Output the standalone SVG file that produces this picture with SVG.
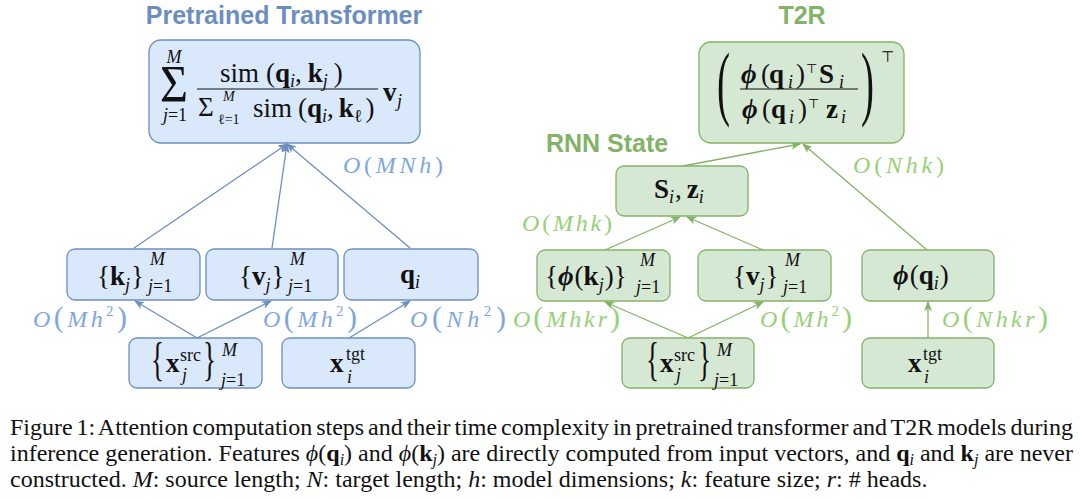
<svg xmlns="http://www.w3.org/2000/svg" width="1080" height="499" viewBox="0 0 1080 499">
<style>
.bb{fill:#dae8fc;stroke:#6c8ebf;stroke-width:1.3}
.gb{fill:#d5e8d4;stroke:#82b366;stroke-width:1.3}
.m{font-family:"Liberation Serif","DejaVu Serif",serif;font-size:27px;fill:#111}
.b{font-weight:bold}
.i{font-style:italic}
.s{font-size:18px}
.ss{font-size:14px}
.t{font-family:"DejaVu Sans",sans-serif;font-size:13px;font-style:normal;font-weight:normal}
.ttl{font-family:"Liberation Sans",Arial,sans-serif;font-size:25px;font-weight:bold;text-anchor:middle}
.lb{font-family:"Liberation Serif",serif;font-size:24px;font-style:italic}
.up{font-style:normal}
.lbb{fill:#7ea6e0}
.lbg{fill:#97d077}
.cap{font-family:"Liberation Serif","Times New Roman",serif;font-size:24px;fill:#111}
.sc{font-size:16px;font-style:italic}
.ce{stroke:#6c8ebf;stroke-width:1.3;fill:none}
.cg{stroke:#82b366;stroke-width:1.3;fill:none}
</style>
<defs>
<marker id="ab" viewBox="0 0 10 8" refX="9" refY="4" markerWidth="10" markerHeight="8" markerUnits="userSpaceOnUse" orient="auto"><path d="M0,0 L10,4 L0,8 L2.5,4 z" fill="#6c8ebf"/></marker>
<marker id="ag" viewBox="0 0 10 8" refX="9" refY="4" markerWidth="10" markerHeight="8" markerUnits="userSpaceOnUse" orient="auto"><path d="M0,0 L10,4 L0,8 L2.5,4 z" fill="#82b366"/></marker>
</defs>
<rect width="1080" height="499" fill="#ffffff"/>

<!-- titles -->
<text class="ttl" x="284" y="24" fill="#6c8ebf">Pretrained Transformer</text>
<text class="ttl" x="802" y="24" fill="#82b366">T2R</text>
<text class="ttl" x="607" y="152" fill="#82b366">RNN State</text>

<!-- connectors -->
<g id="connectors">
<g class="ce" marker-end="url(#ab)">
<path d="M134,248 L287,144"/>
<path d="M272,248 L287,144"/>
<path d="M410,248 L287,144"/>
<path d="M197,338 L135,301"/>
<path d="M197,338 L271,301"/>
<path d="M349,338 L410,301"/>
</g>
<g class="cg" marker-end="url(#ag)">
<path d="M683,166 L800,144"/>
<path d="M927,250 L803,144"/>
<path d="M605,250 L680,217"/>
<path d="M763,250 L687,217"/>
<path d="M688,338 L605,302"/>
<path d="M688,338 L763,302"/>
<path d="M928,338 L928,302"/>
</g>
</g>

<!-- complexity labels -->
<g id="labels" class="lb">
<text class="lbb" x="343" y="173" textLength="100" lengthAdjust="spacing">O<tspan class="up">(</tspan>MNh<tspan class="up">)</tspan></text>
<text class="lbb" x="33" y="327" textLength="94" lengthAdjust="spacing">O<tspan class="up" style="font-size:30px">(</tspan>Mh<tspan class="up" style="font-size:15px" dy="-11">2</tspan><tspan class="up" style="font-size:30px" dy="11">)</tspan></text>
<text class="lbb" x="263" y="327" textLength="94" lengthAdjust="spacing">O<tspan class="up" style="font-size:30px">(</tspan>Mh<tspan class="up" style="font-size:15px" dy="-11">2</tspan><tspan class="up" style="font-size:30px" dy="11">)</tspan></text>
<text class="lbb" x="410" y="327" textLength="96" lengthAdjust="spacing">O<tspan class="up" style="font-size:30px">(</tspan>Nh<tspan class="up" style="font-size:15px" dy="-11">2</tspan><tspan class="up" style="font-size:30px" dy="11">)</tspan></text>
<text class="lbg" x="853" y="173" textLength="91" lengthAdjust="spacing">O<tspan class="up">(</tspan>Nhk<tspan class="up">)</tspan></text>
<text class="lbg" x="522" y="231" textLength="90" lengthAdjust="spacing">O<tspan class="up">(</tspan>Mhk<tspan class="up">)</tspan></text>
<text class="lbg" x="513" y="327" textLength="107" lengthAdjust="spacing">O<tspan class="up" style="font-size:30px">(</tspan>Mhkr<tspan class="up" style="font-size:30px">)</tspan></text>
<text class="lbg" x="760" y="327" textLength="92" lengthAdjust="spacing">O<tspan class="up" style="font-size:30px">(</tspan>Mh<tspan class="up" style="font-size:15px" dy="-11">2</tspan><tspan class="up" style="font-size:30px" dy="11">)</tspan></text>
<text class="lbg" x="942" y="327" textLength="106" lengthAdjust="spacing">O<tspan class="up" style="font-size:30px">(</tspan>Nhkr<tspan class="up" style="font-size:30px">)</tspan></text>
</g>

<!-- LEFT: pretrained transformer -->
<g id="pt-attention">
<rect class="bb" x="149" y="40" width="271" height="103" rx="12"/>
<text class="m" x="160" y="102" style="font-size:52px" textLength="28" lengthAdjust="spacingAndGlyphs">Σ</text>
<text class="m i s" x="174" y="63" text-anchor="middle">M</text>
<text class="m s" x="175" y="121" text-anchor="middle"><tspan class="i">j</tspan>=1</text>
<text class="m" x="220" y="82">sim<tspan dx="7">(</tspan><tspan class="b">q</tspan><tspan class="s i" y="87">i</tspan><tspan y="82">,</tspan><tspan class="b" dx="6">k</tspan><tspan class="s i" y="87">j</tspan><tspan y="82" dx="6">)</tspan></text>
<line x1="197" y1="89" x2="378" y2="89" stroke="#111" stroke-width="1.2"/>
<text class="m" x="198" y="116">Σ</text>
<text class="m i ss" x="223" y="101">M</text>
<text class="m ss" x="218" y="124">ℓ=1</text>
<text class="m" x="253" y="117">sim<tspan dx="6">(</tspan><tspan class="b">q</tspan><tspan class="s i" y="122">i</tspan><tspan y="117">,</tspan><tspan class="b" dx="5">k</tspan><tspan class="s" y="122">ℓ</tspan><tspan y="117" dx="3">)</tspan></text>
<text class="m b" x="383" y="101">v</text>
<text class="m s i" x="397" y="107">j</text>
</g>

<g id="pt-keys">
<rect class="bb" x="67" y="249" width="133" height="51" rx="8"/>
<text class="m" x="97" y="285">{<tspan class="b">k</tspan><tspan class="s i" y="291">j</tspan><tspan y="285" dx="1">}</tspan></text>
<text class="m s i" x="150" y="265">M</text>
<text class="m s" x="148" y="292"><tspan class="i">j</tspan>=1</text>
</g>

<g id="pt-values">
<rect class="bb" x="206" y="249" width="132" height="51" rx="8"/>
<text class="m" x="239" y="285">{<tspan class="b">v</tspan><tspan class="s i" y="291">j</tspan><tspan y="285" dx="1">}</tspan></text>
<text class="m s i" x="290" y="265">M</text>
<text class="m s" x="288" y="292"><tspan class="i">j</tspan>=1</text>
</g>

<g id="pt-query">
<rect class="bb" x="344" y="249" width="134" height="51" rx="8"/>
<text class="m" x="400" y="283"><tspan class="b">q</tspan><tspan class="s i" y="288">i</tspan></text>
</g>

<g id="pt-src">
<rect class="bb" x="129" y="338" width="133" height="50" rx="8"/>
<text class="m" x="151" y="375" style="font-size:46px" textLength="13" lengthAdjust="spacingAndGlyphs">{</text>
<text class="m b" x="166" y="372">x</text>
<text class="m s" x="180" y="361">src</text>
<text class="m s i" x="182" y="381">j</text>
<text class="m" x="203" y="375" style="font-size:46px" textLength="13" lengthAdjust="spacingAndGlyphs">}</text>
<text class="m s i" x="222" y="356">M</text>
<text class="m s" x="221" y="386"><tspan class="i">j</tspan>=1</text>
</g>

<g id="pt-tgt">
<rect class="bb" x="282" y="338" width="133" height="50" rx="8"/>
<text class="m b" x="330" y="372">x</text>
<text class="m s" x="346" y="360">tgt</text>
<text class="m s i" x="347" y="383">i</text>
</g>

<!-- RIGHT: T2R -->
<g id="t2r-attention">
<rect class="gb" x="699" y="42" width="205" height="101" rx="12"/>
<text class="m" x="717" y="110" style="font-size:82px" textLength="13" lengthAdjust="spacingAndGlyphs">(</text>
<text class="m" x="861" y="110" style="font-size:82px" textLength="13" lengthAdjust="spacingAndGlyphs">)</text>
<text class="t" x="881" y="62" style="font-size:15px">⊤</text>
<text class="m b i" x="741" y="83">ϕ</text>
<text class="m" x="761" y="83">(</text>
<text class="m b" x="769" y="83">q</text>
<text class="m s i" x="788" y="88">i</text>
<text class="m" x="796" y="83">)</text>
<text class="t" x="806" y="73">⊤</text>
<text class="m b" x="819" y="83">S</text>
<text class="m s i" x="839" y="88">i</text>
<line x1="740" y1="89" x2="858" y2="89" stroke="#111" stroke-width="1.2"/>
<text class="m b i" x="742" y="118">ϕ</text>
<text class="m" x="762" y="118">(</text>
<text class="m b" x="771" y="118">q</text>
<text class="m s i" x="789" y="123">i</text>
<text class="m" x="798" y="118">)</text>
<text class="t" x="808" y="108">⊤</text>
<text class="m b" x="826" y="118">z</text>
<text class="m s i" x="841" y="123">i</text>
</g>

<g id="t2r-state">
<rect class="gb" x="616" y="166" width="132" height="50" rx="8"/>
<text class="m" x="654" y="198"><tspan class="b">S</tspan><tspan class="s i" y="203">i</tspan><tspan y="198" dx="1">,</tspan><tspan class="b" dx="5">z</tspan><tspan class="s i" y="203">i</tspan></text>
</g>

<g id="t2r-keys">
<rect class="gb" x="537" y="250" width="133" height="51" rx="8"/>
<text class="m" x="545" y="285">{<tspan class="b i">ϕ</tspan><tspan dx="1">(</tspan><tspan class="b">k</tspan><tspan class="s i" y="291">j</tspan><tspan y="285" dx="1">)</tspan>}</text>
<text class="m s i" x="640" y="266">M</text>
<text class="m s" x="636" y="293"><tspan class="i">j</tspan>=1</text>
</g>

<g id="t2r-values">
<rect class="gb" x="698" y="250" width="133" height="51" rx="8"/>
<text class="m" x="733" y="285">{<tspan class="b">v</tspan><tspan class="s i" y="291">j</tspan><tspan y="285" dx="1">}</tspan></text>
<text class="m s i" x="785" y="266">M</text>
<text class="m s" x="783" y="293"><tspan class="i">j</tspan>=1</text>
</g>

<g id="t2r-query">
<rect class="gb" x="862" y="250" width="132" height="51" rx="8"/>
<text class="m" x="893" y="284"><tspan class="b i">ϕ</tspan><tspan dx="1">(</tspan><tspan class="b">q</tspan><tspan class="s i" y="289">i</tspan><tspan y="284" dx="1">)</tspan></text>
</g>

<g id="t2r-src">
<rect class="gb" x="622" y="338" width="132" height="50" rx="8"/>
<text class="m" x="646" y="375" style="font-size:46px" textLength="13" lengthAdjust="spacingAndGlyphs">{</text>
<text class="m b" x="660" y="372">x</text>
<text class="m s" x="674" y="361">src</text>
<text class="m s i" x="676" y="381">j</text>
<text class="m" x="698" y="375" style="font-size:46px" textLength="13" lengthAdjust="spacingAndGlyphs">}</text>
<text class="m s i" x="717" y="356">M</text>
<text class="m s" x="714" y="386"><tspan class="i">j</tspan>=1</text>
</g>

<g id="t2r-tgt">
<rect class="gb" x="862" y="338" width="132" height="50" rx="8"/>
<text class="m b" x="908" y="372">x</text>
<text class="m s" x="923" y="360">tgt</text>
<text class="m s i" x="924" y="383">i</text>
</g>

<!-- caption -->
<g id="caption">
<text class="cap" x="10" y="435" textLength="1063" lengthAdjust="spacing" style="word-spacing:-2px">Figure 1: Attention computation steps and their time complexity in pretrained transformer and T2R models during</text>
<text class="cap" x="10" y="461" textLength="1063" lengthAdjust="spacing">inference generation. Features <tspan class="i">ϕ</tspan>(<tspan class="b">q</tspan><tspan class="sc" dy="4">i</tspan><tspan dy="-4">) and </tspan><tspan class="i">ϕ</tspan>(<tspan class="b">k</tspan><tspan class="sc" dy="4">j</tspan><tspan dy="-4">) are directly computed from input vectors, and </tspan><tspan class="b">q</tspan><tspan class="sc" dy="4">i</tspan><tspan dy="-4"> and </tspan><tspan class="b">k</tspan><tspan class="sc" dy="4">j</tspan><tspan dy="-4"> are never</tspan></text>
<text class="cap" x="10" y="487">constructed. <tspan class="i">M</tspan>: source length; <tspan class="i">N</tspan>: target length; <tspan class="i">h</tspan>: model dimensions; <tspan class="i">k</tspan>: feature size; <tspan class="i">r</tspan>: # heads.</text>
</g>
</svg>
